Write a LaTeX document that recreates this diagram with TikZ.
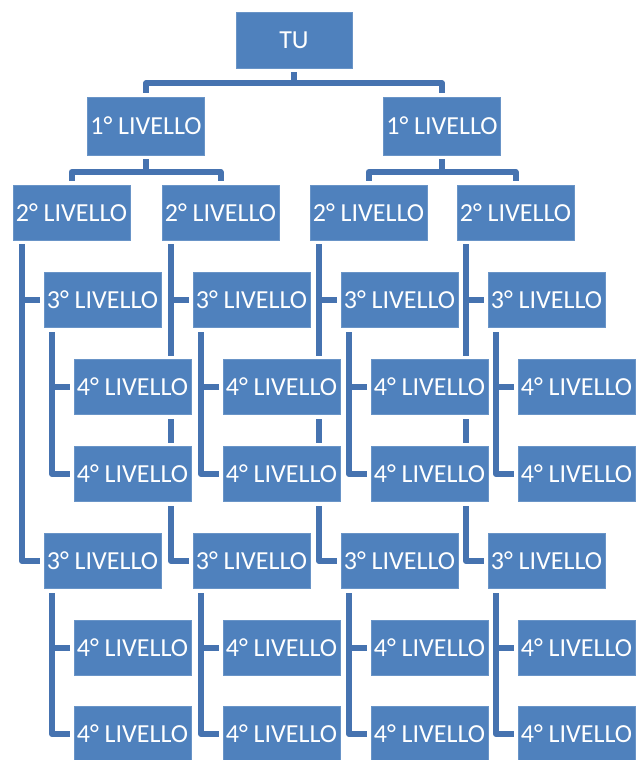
\documentclass[tikz,border=0pt]{standalone}
\usepackage{fontspec}
\setmainfont{Carlito}
\definecolor{boxblue}{HTML}{4F81BD}
\definecolor{lineblue}{HTML}{4673B0}
\begin{document}
\begin{tikzpicture}[x=1pt,y=-1pt,
  box/.style={rectangle, inner sep=0pt, minimum width=117pt, minimum height=55pt,
    fill=boxblue, draw=boxblue!85!white, line width=0.6pt,
    preaction={draw=white, line width=8pt},
    text=white, font=\fontsize{26}{28}\selectfont},
  ghost/.style={rectangle, inner sep=0pt, minimum width=117pt, minimum height=55pt},
  conn/.style={draw=lineblue, line width=6pt, line cap=round, line join=round,
    shorten <=2pt, shorten >=2pt}]
\useasboundingbox[fill=white] (0,0) rectangle (638,760);

% placement frames (invisible) used by the connectors
\node[ghost, minimum width=116pt, minimum height=56pt] (TU0) at (294,40) {};
\node[ghost, minimum height=58pt] (A0) at (146,126) {};
\node[ghost, minimum height=58pt] (B0) at (442,126) {};
\foreach \c/\x in {1/13,2/162,3/310,4/457}{
  \node[ghost] (L2-\c) at (\x+58.5,212.5) {};
  \node[ghost] (L3a-\c) at (\x+89.5,300) {};
  \node[ghost] (L3b-\c) at (\x+89.5,561) {};
  \node[ghost] (L4a-\c) at (\x+119.5,387) {};
  \node[ghost] (L4b-\c) at (\x+119.5,474) {};
  \node[ghost] (L4c-\c) at (\x+119.5,648) {};
  \node[ghost] (L4d-\c) at (\x+119.5,734) {};
}

% connectors
\draw[conn] (TU0.south) -- ([yshift=-15pt]TU0.south) -| (A0.north);
\draw[conn] (TU0.south) -- ([yshift=-15pt]TU0.south) -| (B0.north);
\draw[conn] (A0.south) -- ([yshift=-17pt]A0.south) -| (L2-1.north);
\draw[conn] (A0.south) -- ([yshift=-17pt]A0.south) -| (L2-2.north);
\draw[conn] (B0.south) -- ([yshift=-17pt]B0.south) -| (L2-3.north);
\draw[conn] (B0.south) -- ([yshift=-17pt]B0.south) -| (L2-4.north);
\foreach \c in {1,2,3,4}{
  \draw[conn] ([xshift=-49.5pt]L2-\c.south) |- (L3a-\c.west);
  \draw[conn] ([xshift=-49.5pt]L2-\c.south) |- (L3b-\c.west);
  \draw[conn] ([xshift=-50.5pt]L3a-\c.south) |- (L4a-\c.west);
  \draw[conn] ([xshift=-50.5pt]L3a-\c.south) |- (L4b-\c.west);
  \draw[conn] ([xshift=-50.5pt]L3b-\c.south) |- (L4c-\c.west);
  \draw[conn] ([xshift=-50.5pt]L3b-\c.south) |- (L4d-\c.west);
}

% visible boxes on top
\node[box, minimum width=116pt, minimum height=56pt] (TU) at (TU0) {TU};
\node[box, minimum height=58pt] (A) at (A0) {1° LIVELLO};
\node[box, minimum height=58pt] (B) at (B0) {1° LIVELLO};
\foreach \c in {1,2,3,4}{
  \node[box] (V2-\c) at (L2-\c) {2° LIVELLO};
  \node[box] (V3a-\c) at (L3a-\c) {3° LIVELLO};
  \node[box] (V3b-\c) at (L3b-\c) {3° LIVELLO};
  \node[box] (V4a-\c) at (L4a-\c) {4° LIVELLO};
  \node[box] (V4b-\c) at (L4b-\c) {4° LIVELLO};
  \node[box] (V4c-\c) at (L4c-\c) {4° LIVELLO};
  \node[box] (V4d-\c) at (L4d-\c) {4° LIVELLO};
}
\end{tikzpicture}
\end{document}
